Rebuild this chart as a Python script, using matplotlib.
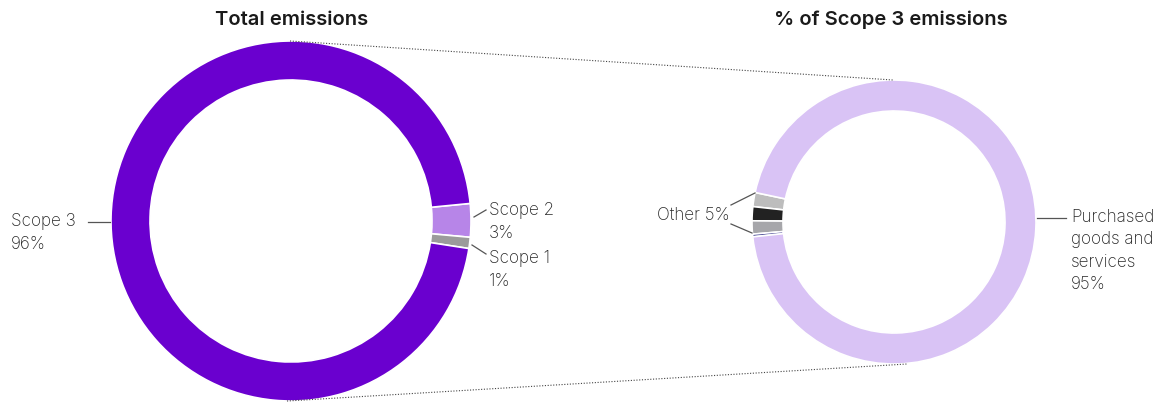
import matplotlib
matplotlib.use("Agg")
import matplotlib.pyplot as plt

plt.rcParams['font.family'] = ['Inter', 'DejaVu Sans']

# Total emissions by scope (%)
scope_labels = ["Scope 2", "Scope 1", "Scope 3"]
scope_values = [3, 1, 96]
scope_colors = ["#B785E8", "#9B9B9B", "#6A00CF"]

# Breakdown of Scope 3 emissions (%)
s3_labels = ["Other A", "Other B", "Other C", "Other D", "Purchased goods and services"]
s3_values = [1.6, 1.6, 1.5, 0.3, 95]
s3_colors = ["#BDBDBD", "#222222", "#A6A6AA", "#3A3A8C", "#D9C3F5"]

W, H = 1171, 403
fig = plt.figure(figsize=(W / 100, H / 100), dpi=100)
ax = fig.add_axes([0, 0, 1, 1])

def py(y):
    # convert top-down pixel row to data y
    return H - y

left_c = (291, py(221))
left_r = 180
right_c = (894, py(222))
right_r = 142

ax.pie(scope_values, colors=scope_colors, radius=left_r, center=left_c,
       startangle=5.6, counterclock=False,
       wedgeprops=dict(width=39, edgecolor="white", linewidth=1.2))

ax.pie(s3_values, colors=s3_colors, radius=right_r, center=right_c,
       startangle=168, counterclock=True,
       wedgeprops=dict(width=31, edgecolor="white", linewidth=1.2))

ax.set_xlim(0, W)
ax.set_ylim(0, H)
ax.set_aspect("equal")
ax.axis("off")

# connector lines between the two rings
ax.plot([290, 893], [py(41), py(80)], ls=(0, (1, 1.5)), color="#444444", lw=0.8)
ax.plot([287, 907], [py(401), py(364)], ls=(0, (1, 1.5)), color="#444444", lw=0.8)

# titles
ax.text(292, py(20), "Total emissions", ha="center", va="center",
        fontsize=14.5, fontweight="semibold", color="#1A1A1A")
ax.text(891, py(20), "% of Scope 3 emissions", ha="center", va="center",
        fontsize=14.5, fontweight="semibold", color="#1A1A1A")

lab = dict(fontsize=12.3, fontweight="light", color="#262626", va="center",
           linespacing=1.4)
lc = dict(color="#555555", lw=0.9)

# left ring labels
ax.plot([88, 110], [py(222), py(222)], **lc)
ax.text(11, py(233), "Scope 3\n96%", ha="left", **lab)

ax.plot([474, 486], [py(217), py(210)], **lc)
ax.text(489, py(222), "Scope 2\n3%", ha="left", **lab)

ax.plot([472, 486], [py(245), py(254)], **lc)
ax.text(489, py(270), "Scope 1\n1%", ha="left", **lab)

# right ring labels
ax.plot([731, 755], [py(205), py(193)], **lc)
ax.plot([731, 752], [py(224), py(233)], **lc)
ax.text(730, py(215), "Other 5%", ha="right", **lab)

ax.plot([1037, 1066], [py(218), py(218)], **lc)
ax.text(1071, py(251), "Purchased\ngoods and\nservices\n95%", ha="left", **lab)

fig.savefig("out.png", dpi=100)
